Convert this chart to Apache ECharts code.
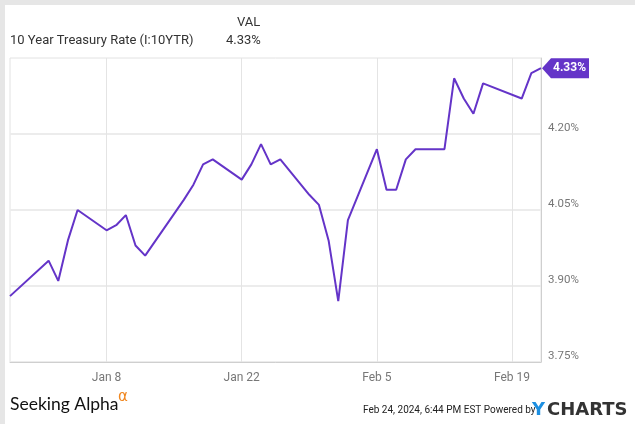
<!DOCTYPE html>
<html>
<head>
<meta charset="utf-8">
<script src="https://cdn.jsdelivr.net/npm/echarts@6/dist/echarts.min.js"></script>
<style>
html,body{margin:0;padding:0;background:#fff;}
#chart{width:635px;height:424px;}
</style>
</head>
<body>
<div id="chart"></div>
<script>
const dates = ['2023-12-29','2024-01-02','2024-01-03','2024-01-04','2024-01-05','2024-01-08','2024-01-09','2024-01-10','2024-01-11','2024-01-12','2024-01-16','2024-01-17','2024-01-18','2024-01-19','2024-01-22','2024-01-23','2024-01-24','2024-01-25','2024-01-26','2024-01-29','2024-01-30','2024-01-31','2024-02-01','2024-02-02','2024-02-05','2024-02-06','2024-02-07','2024-02-08','2024-02-09','2024-02-12','2024-02-13','2024-02-14','2024-02-15','2024-02-16','2024-02-20','2024-02-21','2024-02-22'];
const values = [3.88,3.95,3.91,3.99,4.05,4.01,4.02,4.04,3.98,3.96,4.07,4.10,4.14,4.15,4.11,4.14,4.18,4.14,4.15,4.08,4.06,3.99,3.87,4.03,4.17,4.09,4.09,4.15,4.17,4.17,4.31,4.27,4.24,4.30,4.27,4.32,4.33];
const xTickDates = ['2024-01-08','2024-01-22','2024-02-05','2024-02-19'];
const xTickLabels = ['Jan 8','Jan 22','Feb 5','Feb 19'];
const yTicks = [3.75,3.90,4.05,4.20];
const seriesName = '10 Year Treasury Rate (I:10YTR)';
const lastValueText = '4.33%';

const DAY = 86400000;
const ts = s => { const p = s.split('-').map(Number); return Date.UTC(p[0], p[1]-1, p[2]) / DAY; };
const data = dates.map((d,i) => [ts(d), values[i]]);
const xTicks = xTickDates.map(ts);
const labelMap = {}; xTicks.forEach((t,i)=>labelMap[t]=xTickLabels[i]);
const purple = '#6434c8';

const chart = echarts.init(document.getElementById('chart'), null, {renderer:'canvas'});
chart.setOption({
  animation: false,
  backgroundColor: '#fff',
  grid: {left: 10, right: 94, top: 58, bottom: 62, show: true, borderColor: '#e2e2e2', borderWidth: 1},
  xAxis: {
    type: 'value',
    min: ts(dates[0]),
    max: ts(dates[dates.length-1]),
    axisLine: {show: true, lineStyle: {color: '#cfcfcf'}},
    axisTick: {show: false, customValues: xTicks},
    splitLine: {show: true, lineStyle: {color: '#e4e4e4', width: 1}},
    axisLabel: {customValues: xTicks, formatter: v => labelMap[v] || '', color: '#777', fontFamily: 'Roboto', fontSize: 12, margin: 10, showMinLabel: true, showMaxLabel: true}
  },
  yAxis: {
    type: 'value',
    position: 'right',
    min: 3.75, max: 4.35,
    axisLine: {show: true, lineStyle: {color: '#cfcfcf'}},
    axisTick: {show: false, customValues: yTicks},
    splitLine: {show: true, lineStyle: {color: '#ececec', width: 2}},
    axisLabel: {customValues: yTicks, formatter: v => v.toFixed(2) + '%', color: '#777', fontFamily: 'Roboto', fontSize: 11.5, margin: 7, verticalAlign: 'bottom'}
  },
  series: [{
    type: 'line',
    name: seriesName,
    data: data,
    showSymbol: false,
    symbol: 'none',
    lineStyle: {color: purple, width: 2},
    markPoint: {
      symbol: 'path://M0,10 L9,0 L47,0 L47,20 L9,20 Z',
      symbolSize: [47, 20],
      symbolOffset: [24.5, 0],
      itemStyle: {color: purple},
      label: {show: true, formatter: () => lastValueText, color: '#fff', fontFamily: 'Roboto', fontWeight: 'bold', fontSize: 12, offset: [4, 0]},
      data: [{coord: data[data.length-1]}]
    }
  }],
  graphic: [
    {type: 'rect', left: 0, top: 0, shape: {width: 635, height: 424}, style: {fill: 'none', stroke: '#e6e6e6', lineWidth: 5}, silent: true},
    {type: 'text', left: 10, top: 34, style: {text: seriesName, fill: '#333', font: '13px Roboto'}},
    {type: 'text', left: 237, top: 16, style: {text: 'VAL', fill: '#333', font: '13px Roboto'}},
    {type: 'text', left: 226, top: 34, style: {text: lastValueText, fill: '#333', font: '13px Roboto'}},
    {type: 'text', left: 10, top: 395, style: {text: 'Seeking Alpha', fill: '#111', font: '17.5px Lato'}},
    {type: 'text', left: 118, top: 390, style: {text: 'α', fill: '#f0861e', font: '15px "DejaVu Sans"'}},
    {type: 'text', left: 363, top: 405, style: {text: 'Feb 24, 2024, 6:44 PM EST Powered by', fill: '#222', font: '10px Roboto'}},
    {type: 'text', left: 532, top: 401, style: {text: 'Y', fill: '#1d8fe1', font: 'bold 18px "DejaVu Sans"'}},
    {type: 'text', left: 547, top: 401, style: {text: 'CHARTS', fill: '#333', font: 'bold 18px "DejaVu Sans"'}}
  ]
});
</script>
</body>
</html>
